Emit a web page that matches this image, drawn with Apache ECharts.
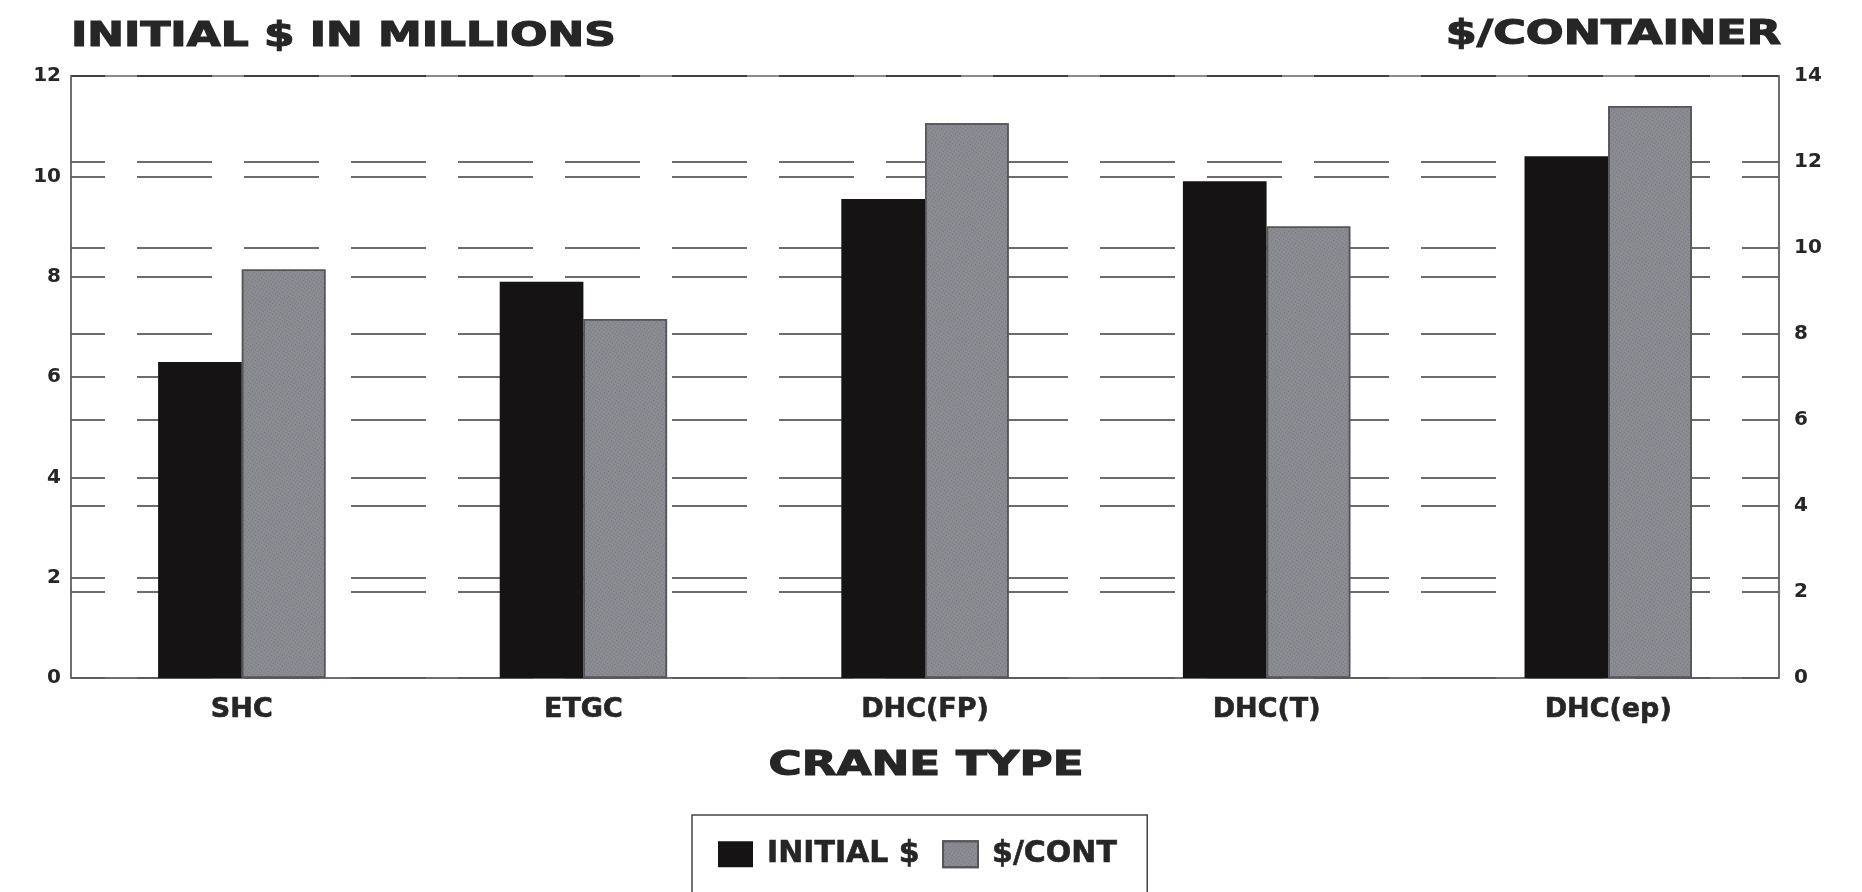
<!DOCTYPE html>
<html>
<head>
<meta charset="utf-8">
<title>Crane type</title>
<script src="https://cdn.jsdelivr.net/npm/echarts@6/dist/echarts.min.js"></script>
<style>
  html, body { margin: 0; padding: 0; background: #fff; }
  #main_show { width: 1862px; height: 892px; }
</style>
</head>
<body>
<div id="main_show"></div>
<script>
// values
var craneTypes = ['SHC', 'ETGC', 'DHC(FP)', 'DHC(T)', 'DHC(ep)'];
var initialCost = [6.3, 7.9, 9.55, 9.9, 10.4];       // left axis, $ millions
var costPerCont = [9.5, 8.35, 12.9, 10.5, 13.3];     // right axis, $/container
var leftTicks = {min: 0, max: 12, interval: 2};
var rightTicks = {min: 0, max: 14, interval: 2};

var main_show = echarts.init(document.getElementById('main_show'));
var font = '"DejaVu Sans", Arial, sans-serif';
var ink = '#262626';

var gridDash = {
    color: '#3c3c3c',
    width: 1.5,
    type: [75, 32],
    dashOffset: 41
};

function bigText(txt, x, y, size, align, sx) {
    return {
        type: 'text', x: x, y: y, scaleX: sx,
        style: {
            text: txt, font: 'bold ' + size + 'px ' + font,
            fill: ink, stroke: ink, lineWidth: 1.2,
            align: align, verticalAlign: 'middle'
        }
    };
}

option = {
    backgroundColor: '#fff',
    animation: false,
    grid: {
        left: 71,
        right: 83,
        top: 76,
        height: 602,
        show: true,
        borderColor: '#666',
        borderWidth: 1.5
    },
    graphic: [
        bigText('INITIAL $ IN MILLIONS', 71, 37, 33, 'left', 1.33),
        bigText('$/CONTAINER', 1781, 35, 33, 'right', 1.35),
        bigText('CRANE TYPE', 926, 766, 34, 'center', 1.33)
    ],
    legend: {
        data: ['INITIAL $', '$/CONT'],
        left: 692,
        top: 815,
        padding: [24, 30, 40, 26],
        itemWidth: 35,
        itemHeight: 26,
        itemGap: 22,
        icon: 'rect',
        borderColor: '#444',
        borderWidth: 1.5,
        textStyle: {
            fontFamily: font,
            fontWeight: 'bold',
            fontSize: 30,
            color: ink,
            textBorderColor: ink,
            textBorderWidth: 0.6,
            padding: [0, 0, 0, 9]
        }
    },
    xAxis: {
        type: 'category',
        data: craneTypes,
        axisLine: {lineStyle: {color: '#666', width: 1.5}},
        axisTick: {show: false},
        axisLabel: {
            margin: 18,
            fontFamily: font,
            fontWeight: 'bold',
            fontSize: 27,
            color: ink,
            textBorderColor: ink,
            textBorderWidth: 0.6
        }
    },
    yAxis: [
        {
            type: 'value',
            min: leftTicks.min,
            max: leftTicks.max,
            interval: leftTicks.interval,
            axisLine: {show: true, lineStyle: {color: '#666', width: 1.5}},
            axisTick: {show: false},
            axisLabel: {
                margin: 10,
                fontFamily: font,
                fontWeight: 'bold',
                fontSize: 20,
                color: ink,
                padding: [8, 0, 0, 0]
            },
            splitLine: {show: true, lineStyle: gridDash}
        },
        {
            type: 'value',
            position: 'right',
            min: rightTicks.min,
            max: rightTicks.max,
            interval: rightTicks.interval,
            axisLine: {show: true, lineStyle: {color: '#666', width: 1.5}},
            axisTick: {show: false},
            axisLabel: {
                margin: 15,
                fontFamily: font,
                fontWeight: 'bold',
                fontSize: 20,
                color: ink
            },
            splitLine: {show: true, lineStyle: gridDash}
        }
    ],
    series: [
        {
            name: 'INITIAL $',
            type: 'bar',
            yAxisIndex: 0,
            barWidth: '24.5%',
            barGap: '0%',
            itemStyle: {color: '#161315'},
            data: initialCost
        },
        {
            name: '$/CONT',
            type: 'bar',
            yAxisIndex: 1,
            barWidth: '24.5%',
            barGap: '0%',
            itemStyle: {
                color: '#8b8b92',
                borderColor: '#55555b',
                borderWidth: 1.5,
                decal: {
                    symbol: 'rect',
                    symbolSize: 1,
                    dashArrayX: [[1, 2]],
                    dashArrayY: [1, 2],
                    rotation: 0.6,
                    color: 'rgba(70, 70, 78, 0.35)'
                }
            },
            data: costPerCont
        }
    ]
};
main_show.setOption(option);
</script>
</body>
</html>
